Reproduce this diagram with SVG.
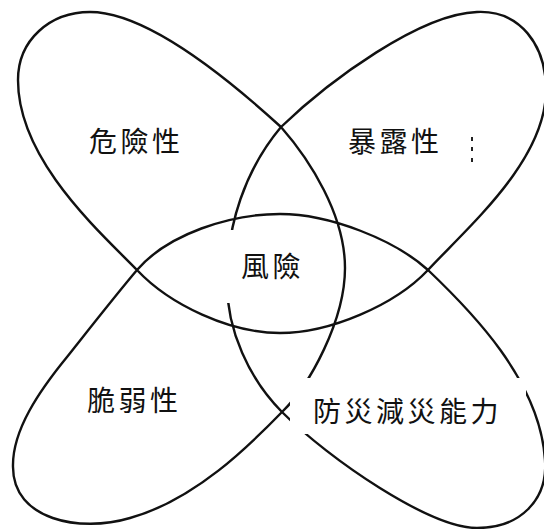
<svg xmlns="http://www.w3.org/2000/svg" width="544" height="529" viewBox="0 0 544 529">
<style>
.line{fill:none;stroke:#111;stroke-width:2.4;stroke-linejoin:round;stroke-linecap:round}
.bg{fill:#fff;stroke:none}
.lbl{font-family:"Noto Sans CJK TC","Noto Sans CJK SC",sans-serif;font-size:28px;fill:#111;letter-spacing:3.5px;dominant-baseline:central}
.speck{fill:#222}
</style>
<rect width="544" height="529" fill="#fff"/>
<g id="connectors">
<path class="line" d="M281,127 C310,160 345,215 345,268 C345,320 310,385 282,412
C250,445 195,500 130,518 C80,533 13,520 13,467 C12,430 40,390 67,357 C90,328 115,296 137,270
C168,234 230,214 280,214 C330,214 395,240 428,270
C470,310 540,380 545,460 C548,500 520,528 477,528 C430,528 330,460 282,412
C250,380 226,330 227,280 C227,225 245,170 281,127
C330,80 420,14 477,12 C520,10 546,45 546,90 C546,160 470,225 428,270
C395,305 330,333 280,333 C230,333 170,305 137,270
C100,232 18,160 18,80 C18,40 50,12 90,12 C150,12 235,85 281,127 Z"/>
</g>
<g id="hazard"><text class="lbl" x="89" y="140">危險性</text></g>
<g id="exposure"><text class="lbl" x="348" y="140">暴露性</text>
<rect class="speck" x="471" y="137" width="2" height="4"/><rect class="speck" x="471" y="147" width="2" height="4"/><rect class="speck" x="471" y="158" width="2" height="4"/></g>
<g id="risk"><rect class="bg" x="223" y="230" width="95" height="73"/><text class="lbl" x="241" y="265">風險</text></g>
<g id="vulnerability"><text class="lbl" x="87" y="399">脆弱性</text></g>
<g id="capacity"><rect class="bg" x="290" y="378" width="236" height="56"/><text class="lbl" x="313" y="410">防災減災能力</text></g>
</svg>
